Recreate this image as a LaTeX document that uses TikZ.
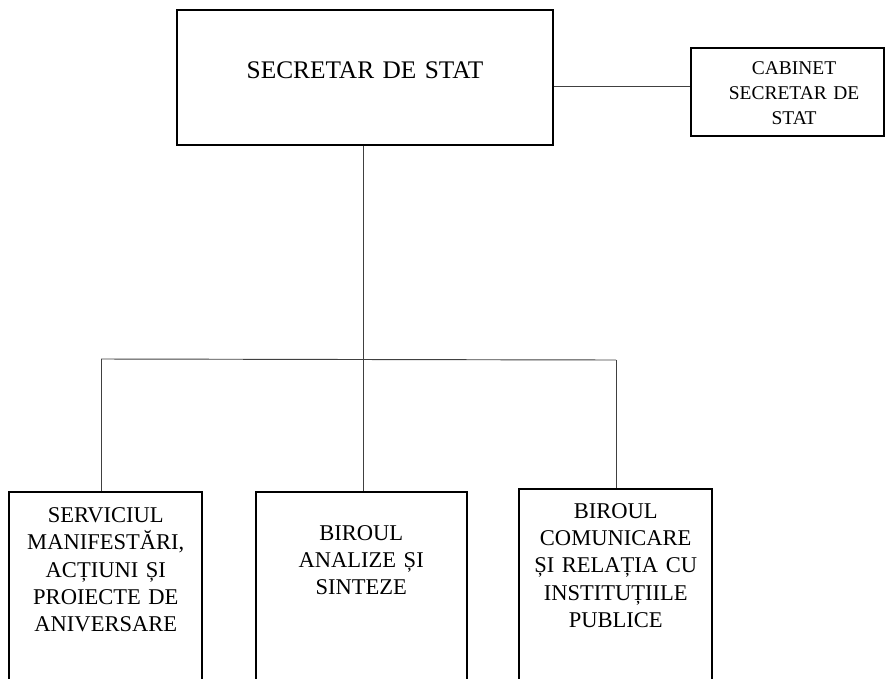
\documentclass[tikz,border=0pt]{standalone}
\usepackage{fontspec}
\setmainfont{Liberation Serif}
\usepackage{tikz}

\begin{document}
\begin{tikzpicture}[x=0.75pt,y=-0.75pt,
    unit/.style={draw,line width=1.4pt,inner xsep=2pt,inner ysep=0pt,align=center,anchor=north},
    link/.style={draw=black!75,line width=0.7pt}]
  \clip (0,0) rectangle (887,678);
  \node[unit,text width=277.5pt,text height=51pt,text depth=50pt,
        font=\fontsize{19}{23}\selectfont] (sec) at (365,9.3) {SECRETAR DE STAT};
  \node[unit,text width=141pt,text height=20pt,text depth=46.2pt,
        font=\fontsize{14.6}{18.75}\selectfont] (cab) at (787.4,46.7)
        {\hspace*{10pt}CABINET\\\hspace*{10pt}SECRETAR DE\\\hspace*{10pt}STAT};
  \node[unit,text width=140.75pt,text height=23.25pt,text depth=200pt,
        font=\fontsize{16.9}{20.4}\selectfont] (s1) at (105.8,490.7)
        {SERVICIUL\\MANIFESTĂRI,\\ACȚIUNI ȘI\\PROIECTE DE\\ANIVERSARE};
  \node[unit,text width=154.25pt,text height=36.4pt,text depth=200pt,
        font=\fontsize{16.9}{20.4}\selectfont] (s2) at (361.2,491)
        {BIROUL\\ANALIZE ȘI\\SINTEZE};
  \node[unit,text width=141pt,text height=21.9pt,text depth=200pt,
        font=\fontsize{16.9}{20.4}\selectfont] (s3) at (615.7,488.3)
        {BIROUL\\COMUNICARE\\ȘI RELAȚIA CU\\INSTITUȚIILE\\PUBLICE};
  \coordinate (jc) at (0,86);
  \coordinate (jl) at (101,359);
  \coordinate (jm) at (363,359);
  \coordinate (jr) at (616,360);
  \draw[link] (sec.east |- jc) -- (cab.west |- jc);
  \draw[link] (sec.south -| jm) -- (jm);
  \draw[link] (jl) -- (jr);
  \draw[link] (jl) -- (jl |- s1.north);
  \draw[link] (jm) -- (jm |- s2.north);
  \draw[link] (jr) -- (jr |- s3.north);
\end{tikzpicture}
\end{document}
